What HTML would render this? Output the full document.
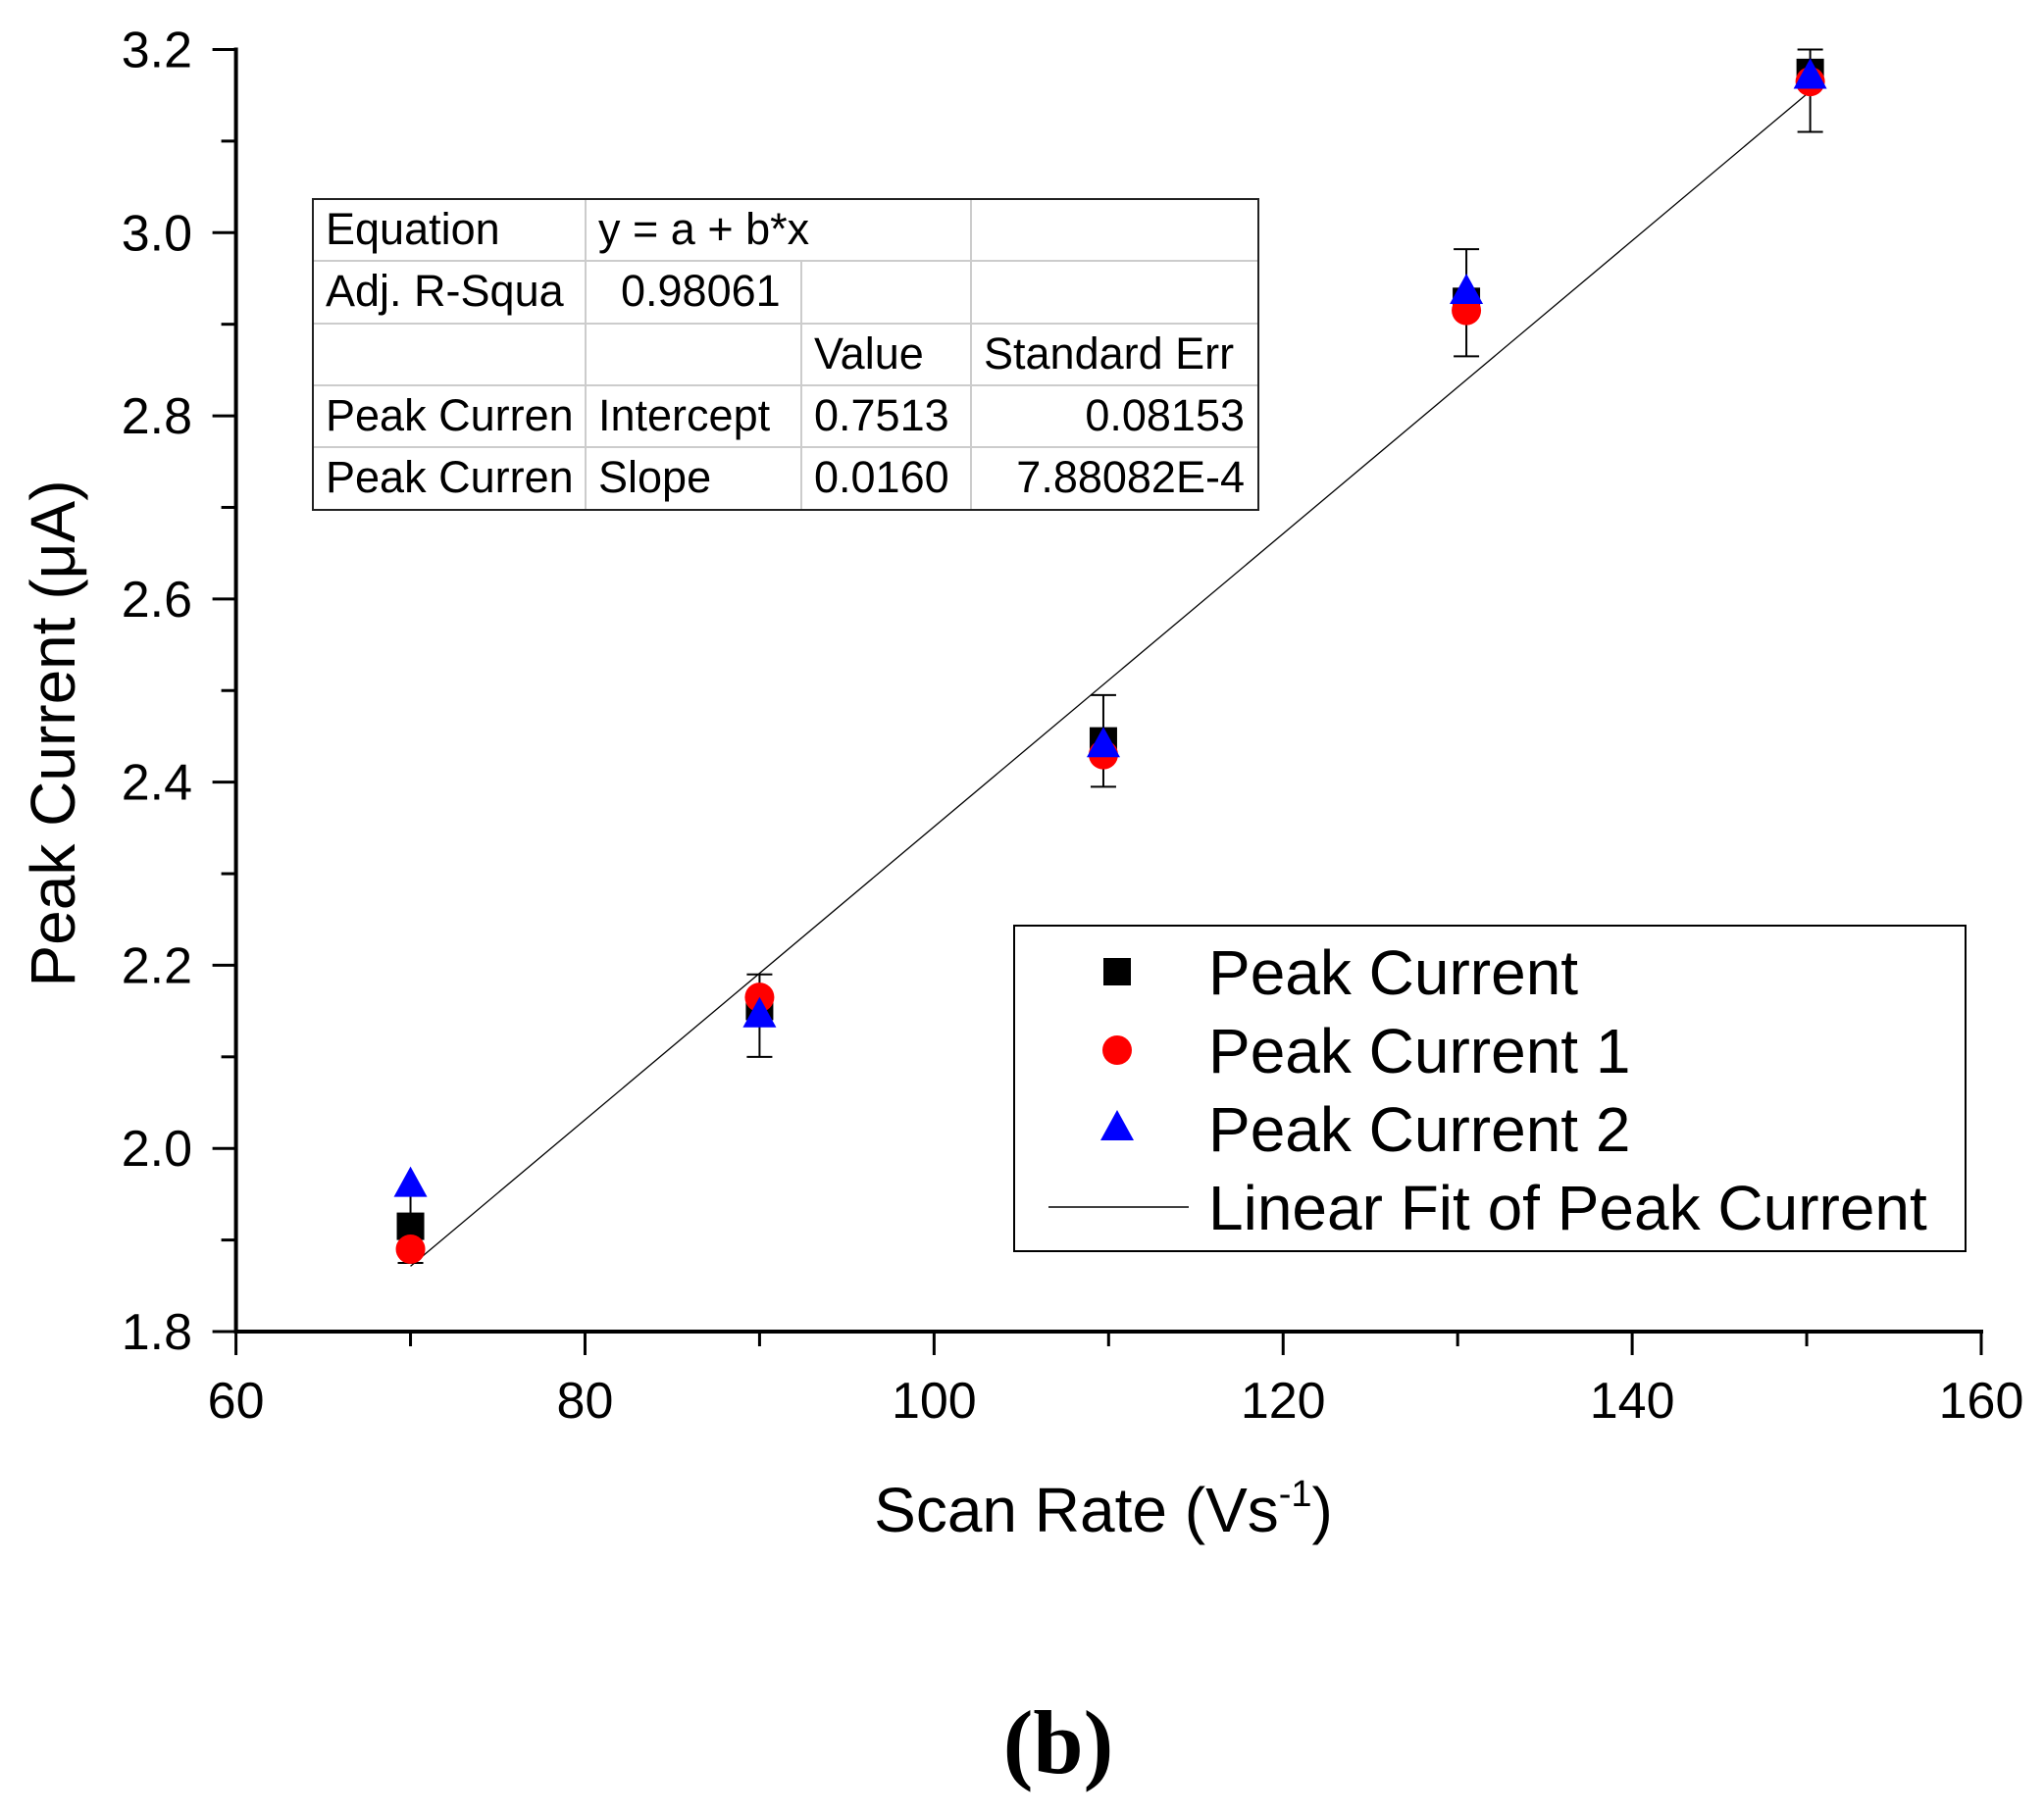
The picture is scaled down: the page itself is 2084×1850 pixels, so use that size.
<!DOCTYPE html>
<html><head><meta charset="utf-8"><style>
html,body{margin:0;padding:0;background:#fff;}
svg{display:block;font-family:"Liberation Sans",Arial,sans-serif;}
</style></head><body>
<svg id="chart" width="2084" height="1850" viewBox="0 0 2084 1850">
<g id="axes"></g>
<g id="fit"></g>
<g id="marks"></g>
<g id="table"></g>
<g id="legend"></g>
<text x="0" y="0" transform="translate(76,748) rotate(-90)" text-anchor="middle" font-size="64">Peak Current (μA)</text>
<text x="1125" y="1562" text-anchor="middle" font-size="64">Scan Rate (Vs<tspan dy="-26" font-size="38">-1</tspan><tspan dy="26">)</tspan></text>
<text x="1079" y="1808" text-anchor="middle" font-size="92" font-weight="bold" font-family="'Liberation Serif',serif">(b)</text>
</svg>
<script>
const xVals = [70, 90, 109.7, 130.5, 150.2];
const peakCurrent = [1.915, 2.155, 2.445, 2.925, 3.175];
const peakCurrent1 = [1.89, 2.165, 2.43, 2.915, 3.165];
const peakCurrent2 = [1.96, 2.145, 2.44, 2.935, 3.17];
const errLow = [1.875, 2.10, 2.395, 2.865, 3.11];
const errHigh = [1.95, 2.19, 2.495, 2.982, 3.20];
const fitIntercept = 0.7513;
const fitSlope = 0.0160;
const xTicks = [60, 80, 100, 120, 140, 160];
const yTicks = [1.8, 2.0, 2.2, 2.4, 2.6, 2.8, 3.0, 3.2];
const tableRows = [
 ["Equation","y = a + b*x","",""],
 ["Adj. R-Squa","0.98061","",""],
 ["","","Value","Standard Err"],
 ["Peak Curren","Intercept","0.7513","0.08153"],
 ["Peak Curren","Slope","0.0160","7.88082E-4"]
];
const legendLabels = ["Peak Current","Peak Current 1","Peak Current 2","Linear Fit of Peak Current"];

const NS="http://www.w3.org/2000/svg";
const X0=240.6,X1=2020,Y0=1358,Y1=50.5;
function sx(v){return X0+(v-60)/100*(X1-X0);}
function sy(v){return Y0-(v-1.8)/1.4*(Y0-Y1);}
function mk(tag,attrs,parent){const e=document.createElementNS(NS,tag);for(const k in attrs)e.setAttribute(k,attrs[k]);parent.appendChild(e);return e;}

const axes=document.getElementById('axes');
let e=mk('line',{x1:X0,y1:Y0,x2:X1+2,y2:Y0,stroke:'#000','stroke-width':4},axes);


e=mk('line',{x1:X0,y1:Y0+2,x2:X0,y2:Y1-2,stroke:'#000','stroke-width':4},axes);


for(let v=60;v<=160;v+=10){
 const major=(v%20===0);
 e=mk('line',{x1:sx(v),y1:Y0,x2:sx(v),y2:Y0+(major?24:15),stroke:'#000','stroke-width':3},axes);
 
 
}
xTicks.forEach(v=>{
 e=mk('text',{x:sx(v),y:1446,'text-anchor':'middle','font-size':52},axes);
 e.textContent=v;
 
 
});
for(let i=0;i<=14;i++){
 const v=1.8+i*0.1;const major=(i%2===0);
 e=mk('line',{x1:X0,y1:sy(v),x2:X0-(major?24:15),y2:sy(v),stroke:'#000','stroke-width':3},axes);
 
 
}
yTicks.forEach(v=>{
 e=mk('text',{x:196,y:sy(v)+18,'text-anchor':'end','font-size':52},axes);
 e.textContent=v.toFixed(1);
 
 
});

const fit=document.getElementById('fit');
const xa=xVals[0],xb=xVals[xVals.length-1];
e=mk('line',{x1:sx(xa),y1:sy(fitIntercept+fitSlope*xa),x2:sx(xb),y2:sy(fitIntercept+fitSlope*xb),stroke:'#000','stroke-width':1.3},fit);



const marks=document.getElementById('marks');
xVals.forEach((x,i)=>{
 const cx=sx(x);
 e=mk('line',{x1:cx,y1:sy(errLow[i]),x2:cx,y2:sy(errHigh[i]),stroke:'#000','stroke-width':2},marks);
 
 
 [errLow[i],errHigh[i]].forEach(v=>{
  e=mk('line',{x1:cx-13,y1:sy(v),x2:cx+13,y2:sy(v),stroke:'#000','stroke-width':2},marks);
  
  
 });
});
xVals.forEach((x,i)=>{
 const cx=sx(x);
 e=mk('rect',{x:cx-14,y:sy(peakCurrent[i])-14,width:28,height:28,fill:'#000'},marks);
 
 
 e=mk('circle',{cx:cx,cy:sy(peakCurrent1[i]),r:15,fill:'#f00'},marks);
 
 
 const py=sy(peakCurrent2[i]);
 e=mk('polygon',{points:`${cx},${py-19} ${cx-17},${py+12} ${cx+17},${py+12}`,fill:'#00f'},marks);
 
 
});

const table=document.getElementById('table');
const cols=[319,597,817,990,1283], rows=[203,266,330,393,456,520];
for(let r=1;r<5;r++){e=mk('line',{x1:cols[0],y1:rows[r],x2:cols[4],y2:rows[r],stroke:'#ccc','stroke-width':2},table);}
[[1,0,5],[2,1,5],[3,0,5]].forEach(([c,r0,r1])=>{
 const ys=(c===2)?rows[1]:rows[0];
 e=mk('line',{x1:cols[c],y1:ys,x2:cols[c],y2:rows[5],stroke:'#ccc','stroke-width':2},table);
 
 
});
e=mk('rect',{x:cols[0],y:rows[0],width:cols[4]-cols[0],height:rows[5]-rows[0],fill:'none',stroke:'#222','stroke-width':2},table);


tableRows.forEach((row,r)=>{
 row.forEach((txt,c)=>{
  if(!txt)return;
  let x=cols[c]+13,anchor='start';
  if(c===3&&r>2){x=cols[4]-14;anchor='end';}
  if(r===1&&c===1)x=cols[1]+36;
  e=mk('text',{x:x,y:rows[r]+46,'font-size':45,'text-anchor':anchor},table);
  e.textContent=txt;
  
  
 });
});

const legend=document.getElementById('legend');
e=mk('rect',{x:1034,y:944,width:970,height:332,fill:'#fff',stroke:'#000','stroke-width':2},legend);


const ly=[991,1071,1151,1231];
e=mk('rect',{x:1125,y:ly[0]-14,width:28,height:28,fill:'#000'},legend);


e=mk('circle',{cx:1139,cy:ly[1],r:15,fill:'#f00'},legend);


e=mk('polygon',{points:`1139,${ly[2]-19} 1122,${ly[2]+12} 1156,${ly[2]+12}`,fill:'#00f'},legend);


e=mk('line',{x1:1069,y1:ly[3],x2:1212,y2:ly[3],stroke:'#000','stroke-width':1.5},legend);


legendLabels.forEach((t,i)=>{
 e=mk('text',{x:1232,y:ly[i]+23,'font-size':64},legend);
 e.textContent=t;
 
 
});
</script>
</body></html>
